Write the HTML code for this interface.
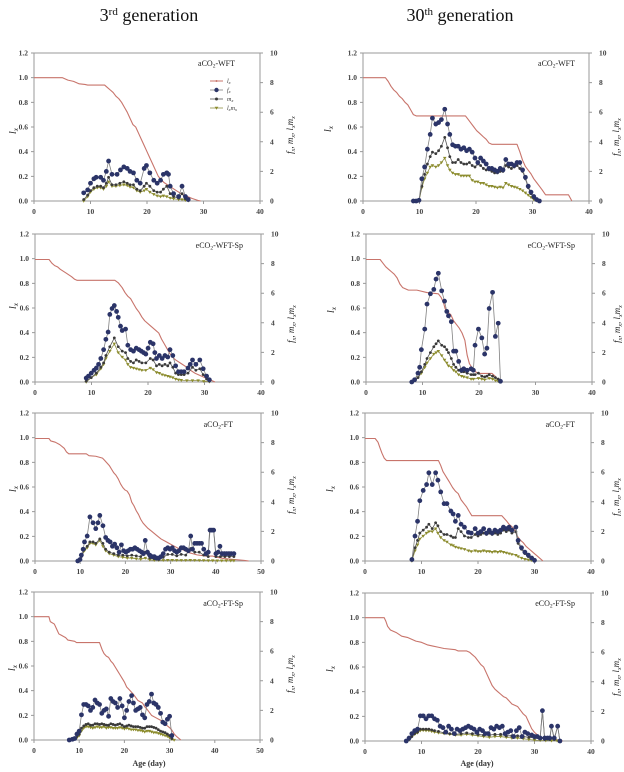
<!DOCTYPE html>
<html><head><meta charset="utf-8"><style>
html,body{margin:0;padding:0;background:#fff}
svg{display:block}
text{font-family:"Liberation Serif","DejaVu Serif",serif}
.tl text{font-size:7.5px;font-weight:bold;text-anchor:end;fill:#444}
.tr text{font-size:7.5px;font-weight:bold;fill:#444}
.tb text{font-size:7.5px;font-weight:bold;text-anchor:middle;fill:#444}
.ttl{font-size:8px;text-anchor:end;fill:#222}
.yl{font-size:10px;font-style:italic;text-anchor:middle;fill:#222}
.yr{font-size:9px;font-style:italic;text-anchor:middle;fill:#222}
.hd{font-size:18px;text-anchor:middle;fill:#111}
.ax{font-size:8px;font-weight:bold;text-anchor:middle;fill:#333}
.lg{font-size:6px;font-style:italic;fill:#333}
polyline{fill:none;vector-effect:non-scaling-stroke;stroke-linejoin:round}
.lx{stroke:#c8746b;stroke-width:1.1}
.f{stroke:#808080;stroke-width:.8}
.m{stroke:#555;stroke-width:.8}
.lm{stroke:#8f8f45;stroke-width:.8}
.f.A{marker-start:url(#fA);marker-mid:url(#fA);marker-end:url(#fA)}
.f.B{marker-start:url(#fB);marker-mid:url(#fB);marker-end:url(#fB)}
.m.A{marker-start:url(#mA);marker-mid:url(#mA);marker-end:url(#mA)}
.m.B{marker-start:url(#mB);marker-mid:url(#mB);marker-end:url(#mB)}
.lm.A{marker-start:url(#lA);marker-mid:url(#lA);marker-end:url(#lA)}
.lm.B{marker-start:url(#lB);marker-mid:url(#lB);marker-end:url(#lB)}
</style></head><body>
<svg width="624" height="772" viewBox="0 0 624 772" xmlns="http://www.w3.org/2000/svg">
<defs>
<marker id="fA" markerUnits="userSpaceOnUse" markerWidth="1" markerHeight="1" style="overflow:visible"><ellipse rx=".425" ry=".162" fill="#2b3468"/></marker>
<marker id="fB" markerUnits="userSpaceOnUse" markerWidth="1" markerHeight="1" style="overflow:visible"><ellipse rx=".531" ry=".162" fill="#2b3468"/></marker>
<marker id="mA" markerUnits="userSpaceOnUse" markerWidth="1" markerHeight="1" style="overflow:visible"><ellipse rx=".25" ry=".095" fill="#3a3a3a"/></marker>
<marker id="mB" markerUnits="userSpaceOnUse" markerWidth="1" markerHeight="1" style="overflow:visible"><ellipse rx=".31" ry=".095" fill="#3a3a3a"/></marker>
<marker id="lA" markerUnits="userSpaceOnUse" markerWidth="1" markerHeight="1" style="overflow:visible"><polygon points="-.32,.08 .32,.08 0,-.12" fill="#8c8c2c"/></marker>
<marker id="lB" markerUnits="userSpaceOnUse" markerWidth="1" markerHeight="1" style="overflow:visible"><polygon points="-.4,.08 .4,.08 0,-.12" fill="#8c8c2c"/></marker>
<g id="fr40"><rect x="0" y="0" width="226" height="148" fill="none" stroke="#9a9a9a" stroke-width="1"/><path d="M-3 0H0M-3 24.67H0M-3 49.33H0M-3 74H0M-3 98.67H0M-3 123.33H0M-3 148H0M226 0h3M226 29.6h3M226 59.2h3M226 88.8h3M226 118.4h3M226 148h3M0 148v3M56.5 148v3M113 148v3M169.5 148v3M226 148v3" stroke="#9a9a9a" fill="none"/></g>
<g id="fr50"><rect x="0" y="0" width="226" height="148" fill="none" stroke="#9a9a9a" stroke-width="1"/><path d="M-3 0H0M-3 24.67H0M-3 49.33H0M-3 74H0M-3 98.67H0M-3 123.33H0M-3 148H0M226 0h3M226 29.6h3M226 59.2h3M226 88.8h3M226 118.4h3M226 148h3M0 148v3M45.2 148v3M90.4 148v3M135.6 148v3M180.8 148v3M226 148v3" stroke="#9a9a9a" fill="none"/></g>
</defs>

<text class="hd" x="149" y="21">3<tspan dy="-6" font-size="11">rd</tspan><tspan dy="6">  generation</tspan></text>
<text class="hd" x="460" y="21">30<tspan dy="-6" font-size="11">th</tspan><tspan dy="6">  generation</tspan></text>

<!-- P1 -->
<g transform="translate(34,53)">
<use href="#fr40"/>
<g class="tl"><text x="-6" y="150.5">0.0</text><text x="-6" y="125.8">0.2</text><text x="-6" y="101.2">0.4</text><text x="-6" y="76.5">0.6</text><text x="-6" y="51.8">0.8</text><text x="-6" y="27.2">1.0</text><text x="-6" y="2.5">1.2</text></g>
<g class="tr"><text x="236" y="150.5">0</text><text x="236" y="120.9">2</text><text x="236" y="91.3">4</text><text x="236" y="61.7">6</text><text x="236" y="32.1">8</text><text x="236" y="2.5">10</text></g>
<g class="tb"><text x="0" y="161">0</text><text x="56.5" y="161">10</text><text x="113" y="161">20</text><text x="169.5" y="161">30</text><text x="226" y="161">40</text></g>
<text class="ttl" x="201" y="13">aCO<tspan dy="1.5" font-size="5.5">2</tspan><tspan dy="-1.5">-WFT</tspan></text>
<text class="yl" transform="translate(-18,78) rotate(-90)">l<tspan dy="2" font-size="7">x</tspan></text>
<text class="yr" transform="translate(259,82) rotate(-90)">f<tspan dy="2" font-size="6">x</tspan><tspan dy="-2">, m</tspan><tspan dy="2" font-size="6">x</tspan><tspan dy="-2">, l</tspan><tspan dy="2" font-size="6">x</tspan><tspan dy="-2">m</tspan><tspan dy="2" font-size="6">x</tspan></text>
<g>
<line x1="176" y1="28" x2="189" y2="28" stroke="#c8746b" stroke-width="1"/><circle cx="182.5" cy="28" r="1" fill="#c8746b"/>
<line x1="176" y1="37" x2="189" y2="37" stroke="#808080" stroke-width=".8"/><circle cx="182.5" cy="37" r="2.2" fill="#2b3468"/>
<line x1="176" y1="46" x2="189" y2="46" stroke="#555" stroke-width=".8"/><circle cx="182.5" cy="46" r="1.5" fill="#3a3a3a"/>
<line x1="176" y1="55" x2="189" y2="55" stroke="#8f8f45" stroke-width=".8"/><polygon points="180.7,53.8 184.3,53.8 182.5,56.8" fill="#8c8c2c"/>
<text class="lg" x="193" y="30">l<tspan dy="1" font-size="4.5">x</tspan></text>
<text class="lg" x="193" y="39">f<tspan dy="1" font-size="4.5">x</tspan></text>
<text class="lg" x="193" y="48">m<tspan dy="1" font-size="4.5">x</tspan></text>
<text class="lg" x="193" y="57">l<tspan dy="1" font-size="4.5">x</tspan><tspan dy="-1">m</tspan><tspan dy="1" font-size="4.5">x</tspan></text>
</g>
<g transform="translate(0,148) scale(5.65,-123.333)"><polyline class="lx" points="0,1 5,1 5.5,0.99 6,0.98 7,0.97 7.5,0.96 8,0.95 9,0.945 9.5,0.94 12.5,0.94 13,0.92 13.5,0.9 14,0.88 14.5,0.85 15,0.83 15.5,0.8 16,0.76 16.5,0.72 17,0.67 17.5,0.62 18,0.6 18.5,0.55 19,0.5 19.5,0.45 20,0.4 20.5,0.35 21,0.3 21.5,0.25 22,0.2 23,0.15 24,0.12 25,0.09 26,0.06 27,0.04 28,0.02 29,0.005 29.5,0"/></g>
<g transform="translate(0,148) scale(5.65,-14.8)">
<polyline class="lm A" points="8.8,0 9.5,0.3 10,0.6 10.6,0.8 11.2,0.9 11.8,0.9 12.3,0.8 12.8,1.0 13.2,1.3 13.8,1.0 14.5,1.0 15.2,1.05 15.9,1.1 16.5,1.05 17,0.95 17.6,0.9 18.2,0.7 18.8,0.6 19.5,0.7 19.9,0.8 20.5,0.6 21.2,0.45 21.8,0.35 22.4,0.3 22.9,0.35 23.5,0.3 24.1,0.2 24.7,0.15 25.6,0.1 26.2,0.1 26.8,0.05 27.3,0.02"/>
<polyline class="m A" points="8.8,0.1 9.5,0.4 10,0.7 10.6,0.9 11.2,1.0 11.8,1.0 12.3,0.9 12.8,1.2 13.2,1.6 13.8,1.1 14.5,1.1 15.2,1.2 15.9,1.3 16.5,1.2 17,1.1 17.6,1.1 18.2,0.8 18.8,0.7 19.5,1.0 19.9,1.2 20.5,1.0 21.2,0.7 21.8,0.6 22.4,0.6 22.9,0.8 23.5,1.0 24.1,0.5 24.7,0.3 25.6,0.2 26.2,0.5 26.8,0.15 27.3,0.05"/>
<polyline class="f A" points="8.8,0.55 9.5,0.75 10,1.2 10.6,1.5 11,1.6 11.8,1.6 12.3,1.4 12.8,2.0 13.2,2.7 13.8,1.8 14.7,1.8 15.3,2.1 15.9,2.3 16.5,2.2 17,2.0 17.6,1.9 18.2,1.4 18.8,1.2 19.5,2.2 19.9,2.4 20.5,1.9 21.2,1.4 21.8,1.2 22.4,1.4 22.9,1.8 23.5,1.9 23.8,1.8 24.1,1.0 24.7,0.5 25.6,0.3 26.2,1.0 26.8,0.3 27.3,0.1"/>
</g>
</g>

<!-- P2 -->
<g transform="translate(363,53)">
<use href="#fr40"/>
<g class="tl"><text x="-6" y="150.5">0.0</text><text x="-6" y="125.8">0.2</text><text x="-6" y="101.2">0.4</text><text x="-6" y="76.5">0.6</text><text x="-6" y="51.8">0.8</text><text x="-6" y="27.2">1.0</text><text x="-6" y="2.5">1.2</text></g>
<g class="tr"><text x="236" y="150.5">0</text><text x="236" y="120.9">2</text><text x="236" y="91.3">4</text><text x="236" y="61.7">6</text><text x="236" y="32.1">8</text><text x="236" y="2.5">10</text></g>
<g class="tb"><text x="0" y="161">0</text><text x="56.5" y="161">10</text><text x="113" y="161">20</text><text x="169.5" y="161">30</text><text x="226" y="161">40</text></g>
<text class="ttl" x="212" y="13">aCO<tspan dy="1.5" font-size="5.5">2</tspan><tspan dy="-1.5">-WFT</tspan></text>
<text class="yl" transform="translate(-32,76) rotate(-90)">l<tspan dy="2" font-size="7">x</tspan></text>
<text class="yr" transform="translate(256,84) rotate(-90)">f<tspan dy="2" font-size="6">x</tspan><tspan dy="-2">, m</tspan><tspan dy="2" font-size="6">x</tspan><tspan dy="-2">, l</tspan><tspan dy="2" font-size="6">x</tspan><tspan dy="-2">m</tspan><tspan dy="2" font-size="6">x</tspan></text>
<g transform="translate(0,148) scale(5.6,-123.333)"><polyline class="lx" points="0,1 4,1 4.5,0.97 5,0.93 5.5,0.9 6,0.88 6.5,0.85 7,0.83 7.5,0.8 8,0.78 8.5,0.74 9,0.7 9.5,0.69 18.3,0.69 18.8,0.66 19.3,0.63 19.8,0.6 20.3,0.57 20.8,0.55 21.5,0.52 22,0.5 22.5,0.47 23,0.46 27.5,0.46 28,0.4 28.5,0.33 29,0.28 29.5,0.25 30,0.22 30.5,0.18 31,0.15 31.5,0.12 32,0.09 32.6,0.05 36.7,0.05 37.3,0"/></g>
<g transform="translate(0,148) scale(5.6,-14.8)">
<polyline class="lm A" points="9,0 10,0 10.5,0.9 11,1.5 11.5,1.9 12,2.3 12.4,2.4 13,2.3 13.5,2.4 14,2.6 14.6,2.9 15.1,2.4 15.5,2.1 16,1.9 16.5,1.8 17,1.8 17.5,1.7 18,1.7 18.5,1.7 19,1.7 19.5,1.4 20,1.3 20.5,1.3 21,1.2 21.5,1.2 22,1.1 22.5,1.0 23,1.0 23.5,0.95 24,0.9 24.5,0.95 25,0.9 25.5,1.2 26,1.1 26.5,1.0 27,0.95 27.5,0.9 28,0.8 28.5,0.7 29,0.55 29.5,0.4 30,0.25 30.5,0.1 31,0.02"/>
<polyline class="m A" points="9,0 10,0.05 10.5,1.0 11,1.8 11.5,2.5 12,3.0 12.4,3.3 13,3.2 13.5,3.4 14,3.7 14.6,4.3 15.1,3.6 15.5,3.0 16,2.6 16.5,2.6 17,2.8 17.5,2.6 18,2.5 18.5,2.5 19,2.6 19.5,2.4 20,2.3 20.5,2.5 21,2.4 21.5,2.2 22,2.1 22.5,2.1 23,2.0 23.5,1.9 24,1.9 24.5,2.0 25,2.0 25.5,2.4 26,2.3 26.5,2.2 27,2.3 27.5,2.4 28,2.2 28.5,2.0 29,1.5 29.5,0.9 30,0.5 30.5,0.2 31,0.05"/>
<polyline class="f A" points="9,0 9.5,0 10,0.05 10.5,1.5 11,2.3 11.5,3.5 12,4.5 12.4,5.6 13,5.2 13.5,5.3 14,5.5 14.6,6.2 15.1,5.2 15.5,4.5 16,3.8 16.5,3.7 17,3.7 17.5,3.5 18,3.6 18.5,3.4 19,3.5 19.5,3.3 20,2.9 20.5,2.6 21,2.9 21.5,2.7 22,2.5 22.5,2.2 23,2.2 23.5,2.1 24,2.0 24.5,2.2 25,2.1 25.5,2.8 26,2.5 26.5,2.5 27,2.4 27.5,2.6 28,2.6 28.5,2.1 29,1.6 29.5,1.0 30,0.6 30.5,0.3 31,0.1 31.5,0"/>
</g>
</g>

<!-- P3 -->
<g transform="translate(35,234)">
<use href="#fr40"/>
<g class="tl"><text x="-6" y="150.5">0.0</text><text x="-6" y="125.8">0.2</text><text x="-6" y="101.2">0.4</text><text x="-6" y="76.5">0.6</text><text x="-6" y="51.8">0.8</text><text x="-6" y="27.2">1.0</text><text x="-6" y="2.5">1.2</text></g>
<g class="tr"><text x="236" y="150.5">0</text><text x="236" y="120.9">2</text><text x="236" y="91.3">4</text><text x="236" y="61.7">6</text><text x="236" y="32.1">8</text><text x="236" y="2.5">10</text></g>
<g class="tb"><text x="0" y="161">0</text><text x="56.5" y="161">10</text><text x="113" y="161">20</text><text x="169.5" y="161">30</text><text x="226" y="161">40</text></g>
<text class="ttl" x="208" y="14">eCO<tspan dy="1.5" font-size="5.5">2</tspan><tspan dy="-1.5">-WFT-Sp</tspan></text>
<text class="yl" transform="translate(-19,72) rotate(-90)">l<tspan dy="2" font-size="7">x</tspan></text>
<text class="yr" transform="translate(259,90) rotate(-90)">f<tspan dy="2" font-size="6">x</tspan><tspan dy="-2">, m</tspan><tspan dy="2" font-size="6">x</tspan><tspan dy="-2">, l</tspan><tspan dy="2" font-size="6">x</tspan><tspan dy="-2">m</tspan><tspan dy="2" font-size="6">x</tspan></text>
<g transform="translate(0,148) scale(5.625,-122.5)"><polyline class="lx" points="0,1 2.5,1 3,0.97 3.5,0.95 4,0.94 4.5,0.92 5.5,0.89 6.5,0.86 7,0.84 7.5,0.83 14.2,0.83 14.8,0.81 15.5,0.77 16,0.73 16.5,0.7 17,0.68 17.5,0.64 18,0.6 18.5,0.57 19,0.53 19.5,0.5 20.5,0.46 21.5,0.42 22,0.4 22.5,0.35 23,0.31 23.5,0.27 24,0.23 24.5,0.2 25,0.18 26,0.15 27,0.12 27.5,0.1 28.5,0.07 29.5,0.05 30.5,0.03 31.5,0.01 32,0"/></g>
<g transform="translate(0,148) scale(5.625,-14.7)">
<polyline class="lm A" points="9.1,0 10,0.3 10.9,0.5 11.7,0.9 12.2,1.2 12.6,1.6 13.3,2.1 14.1,2.6 14.8,2.0 15.5,1.7 16.1,1.5 16.5,1.2 17,1.0 17.5,0.95 18,0.9 18.5,0.85 19,0.8 19.7,0.8 20.5,0.95 21,0.85 21.6,0.65 22.1,0.6 22.6,0.5 23.1,0.45 23.6,0.4 24,0.35 24.5,0.3 25,0.2 25.5,0.15 26,0.12 27,0.1 28,0.1 29,0.1 30,0.05 31,0.02"/>
<polyline class="m A" points="9.1,0.05 10,0.3 10.9,0.6 11.7,1.0 12.2,1.3 12.6,1.8 13.3,2.4 14.1,3.0 14.8,2.4 15.5,2.1 16.1,2.0 16.5,1.6 17,1.4 17.5,1.3 18,1.5 18.5,1.4 19,1.3 19.7,1.3 20.5,1.6 21,1.5 21.6,1.1 22.1,1.2 22.6,1.1 23.1,1.2 23.6,1.1 24,1.3 24.5,1.0 25,0.6 25.5,0.5 26,0.5 26.5,0.5 27.2,0.6 28,1.0 28.6,0.8 29.3,0.9 29.9,0.5 30.5,0.2 31,0.05"/>
<polyline class="f A" points="9.1,0.27 9.5,0.4 10,0.6 10.5,0.8 10.9,0.95 11.3,1.2 11.7,1.6 12.2,2.2 12.6,2.9 13,3.4 13.3,4.6 13.7,5.0 14.1,5.2 14.5,4.8 14.8,4.4 15.2,3.8 15.5,3.5 16.1,3.6 16.5,2.5 17,2.2 17.5,2.1 18,2.3 18.5,2.2 18.9,2.1 19.3,2.0 19.7,1.9 20.1,2.3 20.5,2.7 21,2.6 21.3,2.0 21.6,1.6 22.1,1.8 22.6,1.6 23.1,1.8 23.6,1.7 24,2.2 24.5,1.8 25,1.1 25.5,0.7 26,0.7 26.5,0.7 27.2,0.95 27.6,1.2 28,1.5 28.6,1.2 29.3,1.5 29.9,0.9 30.5,0.4 31,0.15"/>
</g>
</g>

<!-- P4 -->
<g transform="translate(366,234)">
<use href="#fr40"/>
<g class="tl"><text x="-6" y="150.5">0.0</text><text x="-6" y="125.8">0.2</text><text x="-6" y="101.2">0.4</text><text x="-6" y="76.5">0.6</text><text x="-6" y="51.8">0.8</text><text x="-6" y="27.2">1.0</text><text x="-6" y="2.5">1.2</text></g>
<g class="tr"><text x="236" y="150.5">0</text><text x="236" y="120.9">2</text><text x="236" y="91.3">4</text><text x="236" y="61.7">6</text><text x="236" y="32.1">8</text><text x="236" y="2.5">10</text></g>
<g class="tb"><text x="0" y="161">0</text><text x="56.5" y="161">10</text><text x="113" y="161">20</text><text x="169.5" y="161">30</text><text x="226" y="161">40</text></g>
<text class="ttl" x="209" y="14">eCO<tspan dy="1.5" font-size="5.5">2</tspan><tspan dy="-1.5">-WFT-Sp</tspan></text>
<text class="yl" transform="translate(-32,76) rotate(-90)">l<tspan dy="2" font-size="7">x</tspan></text>
<text class="yr" transform="translate(254,90) rotate(-90)">f<tspan dy="2" font-size="6">x</tspan><tspan dy="-2">, m</tspan><tspan dy="2" font-size="6">x</tspan><tspan dy="-2">, l</tspan><tspan dy="2" font-size="6">x</tspan><tspan dy="-2">m</tspan><tspan dy="2" font-size="6">x</tspan></text>
<g transform="translate(0,148) scale(5.65,-122.5)"><polyline class="lx" points="0,1 2.5,1 3,0.97 3.5,0.94 4,0.92 4.5,0.9 5,0.88 5.5,0.85 6,0.8 6.5,0.77 7,0.76 7.5,0.75 9,0.75 10.8,0.73 12.8,0.72 13.3,0.69 13.7,0.65 14,0.6 14.5,0.57 15,0.55 15.5,0.5 16,0.47 16.5,0.44 17,0.4 17.5,0.34 17.9,0.22 18.3,0.15 19,0.1 19.5,0.08 20,0.07 22.3,0.07 22.8,0.05 23.3,0.02 24,0"/></g>
<g transform="translate(0,148) scale(5.65,-14.7)">
<polyline class="lm A" points="8.1,0 8.6,0.1 9.2,0.3 9.8,0.6 10.4,1.0 10.8,1.3 11.4,1.6 12,1.9 12.4,2.0 12.8,2.1 13.4,1.8 13.9,1.5 14.3,1.3 14.6,1.1 15.1,1.0 15.5,0.8 15.9,0.7 16.4,0.5 16.9,0.4 17.3,0.35 17.9,0.3 18.6,0.2 19,0.2 19.9,0.25 20.5,0.2 21,0.15 21.8,0.25 22.4,0.2 22.9,0.1 23.4,0.05 23.8,0"/>
<polyline class="m A" points="8.1,0 8.6,0.1 9.2,0.3 9.8,0.7 10.4,1.2 10.8,1.6 11.4,2.0 12,2.4 12.4,2.6 12.8,2.8 13.4,2.5 13.9,2.4 14.3,2.2 14.6,2.0 15.1,1.6 15.5,1.2 15.9,1.0 16.4,0.8 16.9,0.7 17.3,0.7 17.9,0.6 18.6,0.5 19,0.5 19.3,0.5 19.9,0.6 20.5,0.4 21,0.35 21.4,0.4 21.8,0.5 22.4,0.4 22.9,0.3 23.4,0.2 23.8,0"/>
<polyline class="f A" points="8.1,0 8.6,0.15 9.2,0.6 9.5,1.0 9.8,2.2 10.4,3.6 10.8,5.3 11.4,6.0 12,6.3 12.4,7.0 12.8,7.4 13.4,6.2 13.9,5.5 14.3,4.8 14.6,4.5 15.1,4.1 15.5,2.1 15.9,2.1 16.4,1.4 16.9,0.8 17.3,0.9 17.9,0.8 18.6,0.9 19,0.8 19.3,2.5 19.9,3.6 20.5,3.0 21,1.9 21.4,2.3 21.8,5.0 22.4,6.1 22.9,3.1 23.4,4.0 23.8,0.05"/>
</g>
</g>

<!-- P5 -->
<g transform="translate(35,413)">
<use href="#fr50"/>
<g class="tl"><text x="-6" y="150.5">0.0</text><text x="-6" y="125.8">0.2</text><text x="-6" y="101.2">0.4</text><text x="-6" y="76.5">0.6</text><text x="-6" y="51.8">0.8</text><text x="-6" y="27.2">1.0</text><text x="-6" y="2.5">1.2</text></g>
<g class="tr"><text x="236" y="150.5">0</text><text x="236" y="120.9">2</text><text x="236" y="91.3">4</text><text x="236" y="61.7">6</text><text x="236" y="32.1">8</text><text x="236" y="2.5">10</text></g>
<g class="tb"><text x="0" y="161">0</text><text x="45.2" y="161">10</text><text x="90.4" y="161">20</text><text x="135.6" y="161">30</text><text x="180.8" y="161">40</text><text x="226" y="161">50</text></g>
<text class="ttl" x="198" y="14">aCO<tspan dy="1.5" font-size="5.5">2</tspan><tspan dy="-1.5">-FT</tspan></text>
<text class="yl" transform="translate(-19,76) rotate(-90)">l<tspan dy="2" font-size="7">x</tspan></text>
<text class="yr" transform="translate(259,82) rotate(-90)">f<tspan dy="2" font-size="6">x</tspan><tspan dy="-2">, m</tspan><tspan dy="2" font-size="6">x</tspan><tspan dy="-2">, l</tspan><tspan dy="2" font-size="6">x</tspan><tspan dy="-2">m</tspan><tspan dy="2" font-size="6">x</tspan></text>
<g transform="translate(0,148) scale(4.5,-122.5)"><polyline class="lx" points="0,1 3.1,1 3.5,0.98 4.5,0.97 5.5,0.95 6.5,0.92 7,0.89 7.5,0.875 11.4,0.875 12,0.86 13.5,0.855 15,0.84 15.5,0.82 16,0.8 16.5,0.78 17,0.75 17.5,0.72 18,0.7 18.5,0.67 19,0.63 19.5,0.6 20,0.58 20.5,0.57 21,0.54 21.5,0.48 22,0.45 22.5,0.41 23,0.38 23.5,0.34 24,0.31 24.5,0.29 25,0.27 26,0.24 27,0.21 28,0.18 29,0.16 30,0.14 31,0.12 32,0.1 33,0.09 34,0.07 35,0.06 36,0.05 38,0.04 39.5,0.04 40.5,0.03 42,0.02 43.5,0.015 45,0.01 46.5,0.005 47.5,0"/></g>
<g transform="translate(0,148) scale(4.5,-14.7)">
<polyline class="lm B" points="9.5,0 10.3,0.3 11,0.7 11.6,0.9 12.2,1.2 12.9,1.2 13.5,1.1 14.4,1.4 15.1,1.0 15.7,0.7 16.5,0.5 17.5,0.4 18.5,0.3 19.5,0.25 20.5,0.2 21.5,0.2 22.5,0.15 23.5,0.12 24.5,0.2 25.5,0.08 26.5,0.05 27.5,0.05 28.5,0.05 29.5,0.06 30.5,0.06 31.5,0.05 32.5,0.05 33.5,0.05 34.5,0.06 35.5,0.05 36.5,0.04 37.5,0.04 38.5,0.03 39.5,0.03 40.5,0.02 41.5,0.02 42.5,0.02 43.5,0.02 44.2,0.02"/>
<polyline class="m B" points="9.5,0 10.3,0.3 11,0.8 11.6,1.0 12.2,1.3 12.9,1.3 13.5,1.2 14.4,1.5 15.1,1.2 15.7,0.8 16.5,0.6 17.5,0.5 18.5,0.4 19.5,0.4 20.5,0.35 21.5,0.4 22.5,0.35 23.5,0.3 24.5,0.6 25.5,0.2 26.5,0.15 27.5,0.1 28.5,0.25 29.5,0.45 30.5,0.45 31.5,0.35 32.5,0.45 33.5,0.4 34.6,0.85 35.5,0.6 36.5,0.6 37.5,0.4 38.5,0.3 38.8,2.1 39.7,2.1 40.2,0.3 41.2,0.3 42.2,0.3 43.2,0.3 44.2,0.3"/>
<polyline class="f B" points="9.5,0 10,0.1 10.3,0.4 10.7,0.8 11,1.3 11.6,1.7 12.2,3.0 12.9,2.6 13.5,2.2 14,2.6 14.4,3.1 15.1,2.4 15.7,1.6 16.2,1.4 16.7,1.3 17.2,1.0 17.7,1.15 18.2,0.9 18.7,0.6 19.2,1.1 19.7,0.7 20.2,0.6 20.7,0.7 21.2,0.8 21.7,0.8 22.2,0.9 22.7,0.8 23.2,0.7 23.7,0.6 24.1,0.5 24.5,1.4 25,0.6 25.5,0.4 26,0.3 26.5,0.3 27,0.2 27.5,0.2 28,0.3 28.5,0.5 29,0.8 29.5,0.9 30,0.8 30.5,0.9 31,0.7 31.5,0.6 32,0.7 32.5,0.9 33,0.9 33.5,0.8 34.1,0.7 34.6,1.7 35,0.8 35.5,1.2 36,1.2 36.5,1.2 37,1.2 37.5,0.8 38,0.5 38.5,0.6 38.9,2.1 39.3,2.1 39.7,2.1 40.2,0.5 40.7,0.6 41.1,1.0 41.6,0.5 42.1,0.5 42.6,0.5 43.1,0.5 43.6,0.5 44.2,0.5"/>
</g>
</g>

<!-- P6 -->
<g transform="translate(365,413)">
<use href="#fr40"/>
<g class="tl"><text x="-6" y="150.5">0.0</text><text x="-6" y="125.8">0.2</text><text x="-6" y="101.2">0.4</text><text x="-6" y="76.5">0.6</text><text x="-6" y="51.8">0.8</text><text x="-6" y="27.2">1.0</text><text x="-6" y="2.5">1.2</text></g>
<g class="tr"><text x="236" y="150.5">0</text><text x="236" y="120.9">2</text><text x="236" y="91.3">4</text><text x="236" y="61.7">6</text><text x="236" y="32.1">8</text><text x="236" y="2.5">10</text></g>
<g class="tb"><text x="0" y="161">0</text><text x="56.5" y="161">10</text><text x="113" y="161">20</text><text x="169.5" y="161">30</text><text x="226" y="161">40</text></g>
<text class="ttl" x="210" y="14">aCO<tspan dy="1.5" font-size="5.5">2</tspan><tspan dy="-1.5">-FT</tspan></text>
<text class="yl" transform="translate(-32,76) rotate(-90)">l<tspan dy="2" font-size="7">x</tspan></text>
<text class="yr" transform="translate(254,84) rotate(-90)">f<tspan dy="2" font-size="6">x</tspan><tspan dy="-2">, m</tspan><tspan dy="2" font-size="6">x</tspan><tspan dy="-2">, l</tspan><tspan dy="2" font-size="6">x</tspan><tspan dy="-2">m</tspan><tspan dy="2" font-size="6">x</tspan></text>
<g transform="translate(0,148) scale(5.65,-122.5)"><polyline class="lx" points="0,1 1.8,1 2.3,0.97 2.6,0.93 3,0.88 3.4,0.84 3.8,0.82 13,0.82 13.4,0.78 13.8,0.73 14.2,0.7 14.6,0.67 15,0.64 15.5,0.6 16,0.57 16.5,0.55 17,0.5 17.5,0.47 18,0.44 18.5,0.4 18.9,0.37 24.2,0.37 24.6,0.35 25,0.33 25.5,0.3 26,0.28 26.5,0.25 27,0.2 27.5,0.17 28,0.15 28.5,0.12 29,0.1 29.5,0.08 30,0.06 30.5,0.04 31,0.02 31.5,0"/></g>
<g transform="translate(0,148) scale(5.65,-14.7)">
<polyline class="lm A" points="8.3,0 8.85,0.7 9.3,1.1 9.7,1.5 10.3,1.7 10.9,1.9 11.3,2.0 11.9,2.0 12.5,2.2 12.9,1.9 13.4,1.6 14,1.4 14.5,1.3 15.2,1.1 15.6,1.05 16,0.95 16.5,0.9 17,0.85 17.6,0.8 18.3,0.7 18.8,0.65 19.5,0.7 20,0.65 20.5,0.65 21,0.7 21.5,0.65 22,0.65 22.5,0.6 23,0.65 23.5,0.6 24,0.65 24.5,0.6 25,0.55 25.5,0.5 26,0.45 26.7,0.4 27.1,0.3 27.7,0.2 28.3,0.12 28.9,0.08 29.5,0.04 30,0.01"/>
<polyline class="m A" points="8.3,0.1 8.85,0.9 9.3,1.4 9.7,1.9 10.3,2.1 10.9,2.3 11.3,2.5 11.9,2.2 12.5,2.6 12.9,2.4 13.4,2.0 14,1.8 14.5,1.8 15.2,1.7 15.6,1.6 16,1.6 16.5,2.2 17,2.0 17.6,1.7 18.3,1.6 18.8,1.6 19.5,1.8 20,1.7 20.5,1.8 21,1.9 21.5,1.8 22,1.9 22.5,1.8 23,1.9 23.5,1.8 24,1.9 24.5,2.1 25,2.0 25.5,2.1 26,1.9 26.7,2.0 27.1,1.2 27.7,0.8 28.3,0.5 28.9,0.3 29.5,0.15 30,0.03"/>
<polyline class="f A" points="8.3,0.1 8.85,1.7 9.3,2.7 9.7,4.1 10.3,4.8 10.9,5.2 11.3,6.0 11.9,5.2 12.5,6.0 12.9,5.5 13.4,4.7 14,3.9 14.5,3.9 15.2,3.4 15.6,3.2 16,2.7 16.5,3.1 17,2.5 17.6,2.3 18.3,1.95 18.8,1.9 19.5,2.2 20,1.9 20.5,2.0 21,2.2 21.5,1.9 22,2.1 22.5,1.9 23,2.1 23.5,2.0 24,2.1 24.5,2.3 25,2.2 25.5,2.3 26,2.1 26.7,2.3 27.1,1.4 27.7,0.9 28.3,0.6 28.9,0.4 29.5,0.2 30,0.05"/>
</g>
</g>

<!-- P7 -->
<g transform="translate(34,592)">
<use href="#fr50"/>
<g class="tl"><text x="-6" y="150.5">0.0</text><text x="-6" y="125.8">0.2</text><text x="-6" y="101.2">0.4</text><text x="-6" y="76.5">0.6</text><text x="-6" y="51.8">0.8</text><text x="-6" y="27.2">1.0</text><text x="-6" y="2.5">1.2</text></g>
<g class="tr"><text x="236" y="150.5">0</text><text x="236" y="120.9">2</text><text x="236" y="91.3">4</text><text x="236" y="61.7">6</text><text x="236" y="32.1">8</text><text x="236" y="2.5">10</text></g>
<g class="tb"><text x="0" y="161">0</text><text x="45.2" y="161">10</text><text x="90.4" y="161">20</text><text x="135.6" y="161">30</text><text x="180.8" y="161">40</text><text x="226" y="161">50</text></g>
<text class="ttl" x="209" y="14">aCO<tspan dy="1.5" font-size="5.5">2</tspan><tspan dy="-1.5">-FT-Sp</tspan></text>
<text class="yl" transform="translate(-19,76) rotate(-90)">l<tspan dy="2" font-size="7">x</tspan></text>
<text class="yr" transform="translate(259,82) rotate(-90)">f<tspan dy="2" font-size="6">x</tspan><tspan dy="-2">, m</tspan><tspan dy="2" font-size="6">x</tspan><tspan dy="-2">, l</tspan><tspan dy="2" font-size="6">x</tspan><tspan dy="-2">m</tspan><tspan dy="2" font-size="6">x</tspan></text>
<g transform="translate(0,148) scale(4.52,-123.333)"><polyline class="lx" points="0,1 3.3,1 3.6,0.96 4.5,0.94 5,0.9 5.5,0.86 6,0.85 7,0.83 7.5,0.81 9,0.8 9.4,0.79 14.5,0.79 14.8,0.76 15.1,0.73 15.5,0.7 16,0.68 16.5,0.67 17,0.64 17.5,0.62 18,0.59 18.5,0.56 19,0.53 19.5,0.5 20,0.47 20.5,0.43 21,0.41 22,0.37 23,0.32 24,0.3 24.5,0.27 25,0.25 26,0.2 27,0.18 28,0.16 28.5,0.15 29,0.13 30,0.1 30.5,0.08 31,0.05 31.5,0.03 32,0.015 32.5,0"/></g>
<g transform="translate(0,148) scale(4.52,-14.8)">
<polyline class="lm B" points="7.8,0 8.5,0.02 9,0.05 9.5,0.15 10,0.3 10.5,0.6 11,0.8 11.5,0.9 12,0.9 12.5,0.85 13,0.8 13.5,0.85 14,0.9 14.5,0.85 15,0.85 15.5,0.9 16,0.8 16.5,0.85 17,0.85 17.5,0.8 18,0.8 18.5,0.8 19,0.85 19.5,0.8 20,0.75 20.5,0.8 21,0.75 21.5,0.7 22,0.7 22.5,0.7 23,0.65 23.5,0.65 24,0.6 24.5,0.55 25,0.6 25.5,0.6 26,0.55 26.5,0.5 27,0.5 27.5,0.45 28,0.4 28.5,0.35 29,0.3 29.5,0.25 30,0.15 30.5,0.05 31,0"/>
<polyline class="m B" points="7.8,0 8.5,0.05 9,0.1 9.5,0.25 10,0.4 10.5,0.8 11,0.95 11.5,1.05 12,1.1 12.5,1.0 13,1.0 13.5,1.1 14,1.1 14.5,1.05 15,1.1 15.5,1.05 16,1.0 16.5,1.0 17,1.1 17.5,1.05 18,1.0 18.5,1.05 19,1.1 19.5,1.0 20,0.9 20.5,0.95 21,1.0 21.5,0.95 22,0.9 22.5,0.9 23,0.9 23.5,0.85 24,0.8 24.5,0.8 25,0.9 25.5,0.9 26,0.9 26.5,0.85 27,0.8 27.5,0.7 28,0.6 28.5,0.55 29,0.5 29.5,0.4 30,0.3 30.5,0.1"/>
<polyline class="f B" points="7.8,0 8.5,0.05 9,0.1 9.5,0.4 10,0.6 10.5,1.7 11,2.4 11.5,2.4 12,2.3 12.5,2.0 13,2.2 13.5,2.7 14,2.5 14.5,2.4 15,1.8 15.5,2.0 16,2.1 16.5,1.6 17,2.8 17.5,2.6 18,2.5 18.5,2.2 19,2.8 19.5,2.3 20,1.5 20.5,2.0 21,2.6 21.6,3.0 22,2.5 22.5,2.0 23,2.1 23.5,2.2 24,1.7 24.5,1.5 25,2.4 25.5,2.6 26,3.1 26.5,2.5 27,2.4 27.5,2.2 28,1.8 28.5,1.2 29,1.1 29.5,1.4 30,1.6 30.5,0.3"/>
</g>
</g>

<!-- P8 -->
<g transform="translate(365,593)">
<use href="#fr40"/>
<g class="tl"><text x="-6" y="150.5">0.0</text><text x="-6" y="125.8">0.2</text><text x="-6" y="101.2">0.4</text><text x="-6" y="76.5">0.6</text><text x="-6" y="51.8">0.8</text><text x="-6" y="27.2">1.0</text><text x="-6" y="2.5">1.2</text></g>
<g class="tr"><text x="236" y="150.5">0</text><text x="236" y="120.9">2</text><text x="236" y="91.3">4</text><text x="236" y="61.7">6</text><text x="236" y="32.1">8</text><text x="236" y="2.5">10</text></g>
<g class="tb"><text x="0" y="161">0</text><text x="56.5" y="161">10</text><text x="113" y="161">20</text><text x="169.5" y="161">30</text><text x="226" y="161">40</text></g>
<text class="ttl" x="210" y="13">eCO<tspan dy="1.5" font-size="5.5">2</tspan><tspan dy="-1.5">-FT-Sp</tspan></text>
<text class="yl" transform="translate(-32,76) rotate(-90)">l<tspan dy="2" font-size="7">x</tspan></text>
<text class="yr" transform="translate(254,84) rotate(-90)">f<tspan dy="2" font-size="6">x</tspan><tspan dy="-2">, m</tspan><tspan dy="2" font-size="6">x</tspan><tspan dy="-2">, l</tspan><tspan dy="2" font-size="6">x</tspan><tspan dy="-2">m</tspan><tspan dy="2" font-size="6">x</tspan></text>
<g transform="translate(0,148) scale(5.65,-123.333)"><polyline class="lx" points="0,1 3.4,1 3.7,0.97 4,0.93 4.5,0.9 5.5,0.88 6.5,0.85 7.5,0.84 8.5,0.82 9,0.81 10,0.8 11,0.78 12,0.77 13,0.76 14,0.75 16,0.74 16.5,0.73 18,0.73 18.5,0.72 19,0.7 19.5,0.68 20,0.65 20.5,0.62 21,0.6 21.5,0.55 22,0.5 22.5,0.45 23,0.42 23.5,0.4 24,0.38 24.5,0.36 25,0.35 26,0.3 27,0.28 27.5,0.25 28,0.22 28.5,0.2 29,0.15 29.5,0.1 30,0.07 30.5,0.05 31,0.03 33,0.02 34,0.01 35,0"/></g>
<g transform="translate(0,148) scale(5.65,-14.8)">
<polyline class="lm A" points="7.3,0 7.8,0.1 8.3,0.3 8.8,0.45 9.3,0.55 9.8,0.7 10.3,0.72 10.8,0.7 11.3,0.7 11.8,0.65 12.3,0.6 13,0.55 14,0.5 15,0.45 16,0.4 17,0.4 18,0.45 19,0.4 20,0.35 21,0.3 22,0.25 23,0.3 24,0.3 25,0.25 26,0.2 27,0.2 28,0.15 29,0.1 30,0.06 31,0.04 32,0.03 33,0.02 34,0.02 34.5,0"/>
<polyline class="m A" points="7.3,0 7.8,0.1 8.3,0.3 8.8,0.5 9.3,0.6 9.8,0.8 10.3,0.8 10.8,0.8 11.3,0.8 11.8,0.75 12.3,0.7 13,0.65 14,0.55 15,0.5 16,0.45 17,0.5 18,0.55 19,0.5 20,0.45 21,0.4 22,0.4 23,0.45 24,0.45 25,0.35 26,0.35 27,0.35 28,0.3 29,0.25 30,0.2 31,0.15 31.4,2.05 31.8,0.1 32.7,0.1 33,1.0 33.5,0.1 34.1,1.0 34.5,0"/>
<polyline class="f A" points="7.3,0 7.8,0.2 8.3,0.5 8.8,0.7 9.3,0.8 9.8,1.7 10.3,1.7 10.8,1.5 11.3,1.7 11.8,1.7 12.3,1.5 12.8,1.4 13.3,1.0 13.8,0.9 14.3,0.6 14.8,1.0 15.3,0.8 15.8,0.5 16.3,0.8 16.8,0.7 17.3,0.8 17.8,0.9 18.3,1.0 18.8,0.9 19.3,0.8 19.8,0.6 20.3,0.8 20.8,0.7 21.3,0.5 21.8,0.5 22.3,0.9 22.8,0.8 23.3,1.0 23.8,0.9 24.3,1.0 24.8,0.5 25.3,0.6 25.8,0.7 26.3,0.3 26.8,0.7 27.3,0.9 27.8,0.3 28.3,0.6 28.8,0.5 29.5,0.4 30,0.3 30.5,0.3 31,0.2 31.4,2.05 31.8,0.2 32.3,0.2 32.7,0.2 33,1.0 33.5,0.2 34.1,1.0 34.5,0"/>
</g>
</g>

<text class="ax" x="149" y="766">Age (day)</text>
<text class="ax" x="477" y="766">Age (day)</text>
</svg>
</body></html>
